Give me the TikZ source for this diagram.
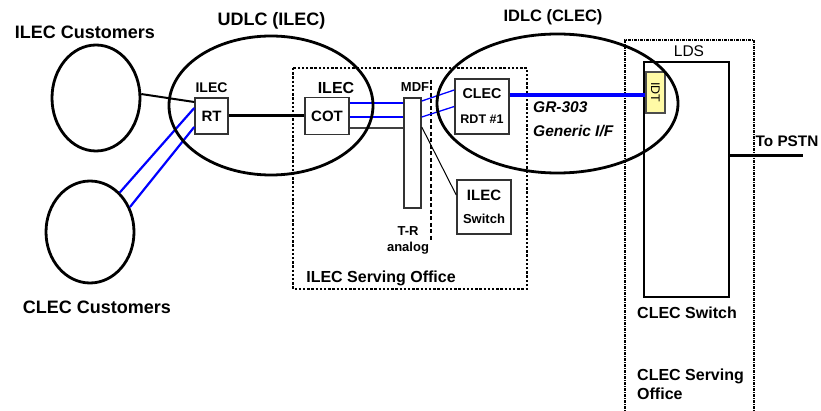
\documentclass[tikz,border=0pt]{standalone}
\usepackage{fontspec}
\setmainfont{Liberation Sans}
\usetikzlibrary{shapes.geometric,positioning}

\begin{document}
\begin{tikzpicture}[x=1pt, y=-1pt,
    txt/.style={inner sep=0pt, font=\bfseries\fontsize{#1}{#1}\selectfont},
    cloud/.style={ellipse, draw, line width=2.8pt, inner sep=0pt},
    box/.style={draw=black!80, line width=1.5pt, inner sep=0pt, fill=white},
    wire/.style={blue, line width=1.3pt},
    office/.style={line width=2.5pt, dash pattern=on 2.4pt off 1.8pt}]
  \useasboundingbox (0,0) rectangle (821,411);

  % Serving offices
  \draw[office] (293,68) rectangle (527,289);
  \draw[line width=1.5pt, dash pattern=on 3pt off 1pt on 1pt off 1pt]
    (625,415) -- (625,40) -- (754,40) -- (754,415);
  \draw[line width=2.2pt, dash pattern=on 4pt off 2.5pt] (431,80) -- (431,242);

  % Customer groups
  \node[cloud, minimum width=88pt, minimum height=106pt] (icust) at (96,98) {};
  \node[cloud, minimum width=88pt, minimum height=102pt] (ccust) at (90,232) {};
  \node[txt=18] (icustl) at (85,32) {ILEC Customers};
  \node[txt=18] (ccustl) at (97,307) {CLEC Customers};

  % Equipment
  \node[box, minimum width=33pt, minimum height=36pt, txt=15] (rt) at (211.5,116) {RT};
  \node[box, minimum width=44pt, minimum height=37pt, txt=15] (cot) at (327,116) {COT};
  \node[box, minimum width=17pt, minimum height=110pt] (mdf) at (412.5,153) {};
  \node[box, minimum width=54pt, minimum height=55pt, align=center,
    font=\bfseries\fontsize{14.3}{25}\selectfont] (rdt) at (482,106.5)
    {CLEC\\\fontsize{12.5}{25}\selectfont RDT \#1};
  \node[box, minimum width=54pt, minimum height=54pt, align=center,
    font=\bfseries\fontsize{15}{23}\selectfont] (isw) at (484,207)
    {ILEC\\\fontsize{13}{23}\selectfont Switch};
  \node[draw, line width=2.8pt, minimum width=85pt, minimum height=235pt] (lds) at (686.5,179.5) {};
  \node[draw=black!70, line width=1.5pt, fill=yellow!35, inner sep=0pt,
    minimum width=41pt, minimum height=19pt, rotate=-90,
    font=\fontsize{12.5}{12.5}\selectfont] (idt) at (655.5,92.5) {IDT};

  % Labels
  \node[txt=14, above=4pt of rt] (rtl) {ILEC};
  \node[txt=16, above=3pt of cot, xshift=9pt] (cotl) {ILEC};
  \node[txt=13] (mdfl) at (415,87.5) {MDF};
  \node[txt=13, align=center, font=\bfseries\fontsize{13}{16}\selectfont] (trl) at (408,240) {T-R\\analog};
  \node[txt=16] (isol) at (381,278) {ILEC Serving Office};
  \node[txt=18] (udlcl) at (271.5,21) {UDLC (ILEC)};
  \node[txt=16.5] (idlcl) at (553,17.5) {IDLC (CLEC)};
  \node[txt=15.5, anchor=north west, align=left, font=\bfseries\itshape\fontsize{15.5}{24}\selectfont]
    (grl) at (533,101.5) {GR-303\\Generic I/F};
  \node[inner sep=0pt, font=\fontsize{15.5}{15.5}\selectfont] (ldsl) at (689,51.5) {LDS};
  \node[txt=16] (cswl) at (687,313) {CLEC Switch};
  \node[txt=16, anchor=north west, align=left, font=\bfseries\fontsize{16}{19}\selectfont]
    (csol) at (637,369) {CLEC Serving\\Office};
  \node[txt=15.3, anchor=west] (pstnl) at (755.5,141) {To PSTN};
  \coordinate (pstn) at (803,156);

  % Connections
  \draw[line width=2pt] (icust.5) -- ([yshift=14pt]rt.west);
  \draw[blue, line width=2.2pt] (ccust.53) -- ([yshift=8pt]rt.west);
  \draw[blue, line width=2.2pt] (ccust.32) -- ([yshift=-11pt]rt.west);
  \draw[line width=3pt] (rt.east) -- (cot.west);
  \draw[wire] ([yshift=13pt]cot.east) -- ([yshift=13pt]cot.east -| mdf.west);
  \draw[wire] ([yshift=-1pt]cot.east) -- ([yshift=-1pt]cot.east -| mdf.west);
  \draw[black!75, line width=1.5pt] ([yshift=-12pt]cot.east) -- ([yshift=-12pt]cot.east -| mdf.west);
  \draw[wire] ([yshift=52pt]mdf.east) -- ([yshift=16.5pt]rdt.west);
  \draw[wire] ([yshift=36pt]mdf.east) -- (rdt.west);
  \draw[line width=1pt] ([yshift=26pt]mdf.east) -- ([yshift=12pt]isw.west);
  \draw[blue, line width=3.2pt] ([yshift=11.5pt]rdt.east) -- ([yshift=11.5pt]rdt.east -| idt.south);
  \draw[line width=3pt] (lds.east |- pstn) -- (pstn);

  % Loop carrier areas
  \node[cloud, minimum width=204pt, minimum height=139pt] (udlc) at (271,105.5) {};
  \node[cloud, minimum width=241pt, minimum height=139pt] (idlc) at (557.5,103.5) {};
\end{tikzpicture}
\end{document}
